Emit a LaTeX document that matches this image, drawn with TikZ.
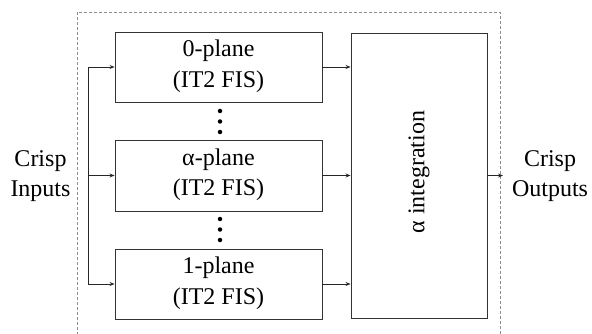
\documentclass[tikz,border=0pt]{standalone}
\usepackage{fontspec}
\setmainfont{Liberation Serif}
\usetikzlibrary{arrows.meta}
\begin{document}
\begin{tikzpicture}[x=1pt,y=-1pt,
  blk/.style={draw=black!80, line width=0.9pt, inner sep=0pt},
  lbl/.style={font=\fontsize{24}{30.5}\selectfont, align=center, inner sep=0pt},
  arr/.style={-{Stealth[length=5pt,width=4pt]}, line width=0.8pt, black!85},
  dot/.style={circle, fill=black, inner sep=0pt, minimum size=4.5pt}]
\useasboundingbox (0,0) rectangle (592,334);
\draw[black!45, dashed, line width=0.7pt, dash pattern=on 3pt off 2pt] (77,340) -- (77,12) -- (500,12) -- (500,340);
\node[blk, minimum width=207pt, minimum height=70pt] (p0) at (218.5,67) {};
\node[lbl] at (218.5,66) {0-plane\\(IT2 FIS)};
\node[blk, minimum width=207pt, minimum height=71pt] (pa) at (218.5,175.5) {};
\node[lbl] at (218.5,174.5) {α-plane\\(IT2 FIS)};
\node[blk, minimum width=207pt, minimum height=70pt] (p1) at (218.5,284) {};
\node[lbl] at (218.5,283) {1-plane\\(IT2 FIS)};
\node[blk, minimum width=136pt, minimum height=285pt] (ai) at (419,175.5) {};
\node[lbl, rotate=90] at (419,172) {α integration};
\node[dot] (d1) at (220,111) {};
\node[dot] (d2) at (220,121.5) {};
\node[dot] (d3) at (220,132) {};
\node[dot] (d4) at (220,219) {};
\node[dot] (d5) at (220,229.5) {};
\node[dot] (d6) at (220,240) {};
\node[lbl] (in) at (40.5,176) {Crisp\\Inputs};
\node[lbl] (out) at (550,176) {Crisp\\Outputs};
\coordinate (bt) at (88,67);
\coordinate (bm) at (88,175.5);
\coordinate (bb) at (88,284);
\draw[line width=0.8pt, black!85] (bt) -- (bb);
\draw[arr] (bt) -- (p0.west);
\draw[arr] (bm) -- (pa.west);
\draw[arr] (bb) -- (p1.west);
\draw[arr] (p0.east) -- (ai.west |- p0.east);
\draw[arr] (pa.east) -- (ai.west |- pa.east);
\draw[arr] (p1.east) -- (ai.west |- p1.east);
\coordinate (oe) at (503,175.5);
\draw[arr] (ai.east) -- (oe);
\end{tikzpicture}
\end{document}
